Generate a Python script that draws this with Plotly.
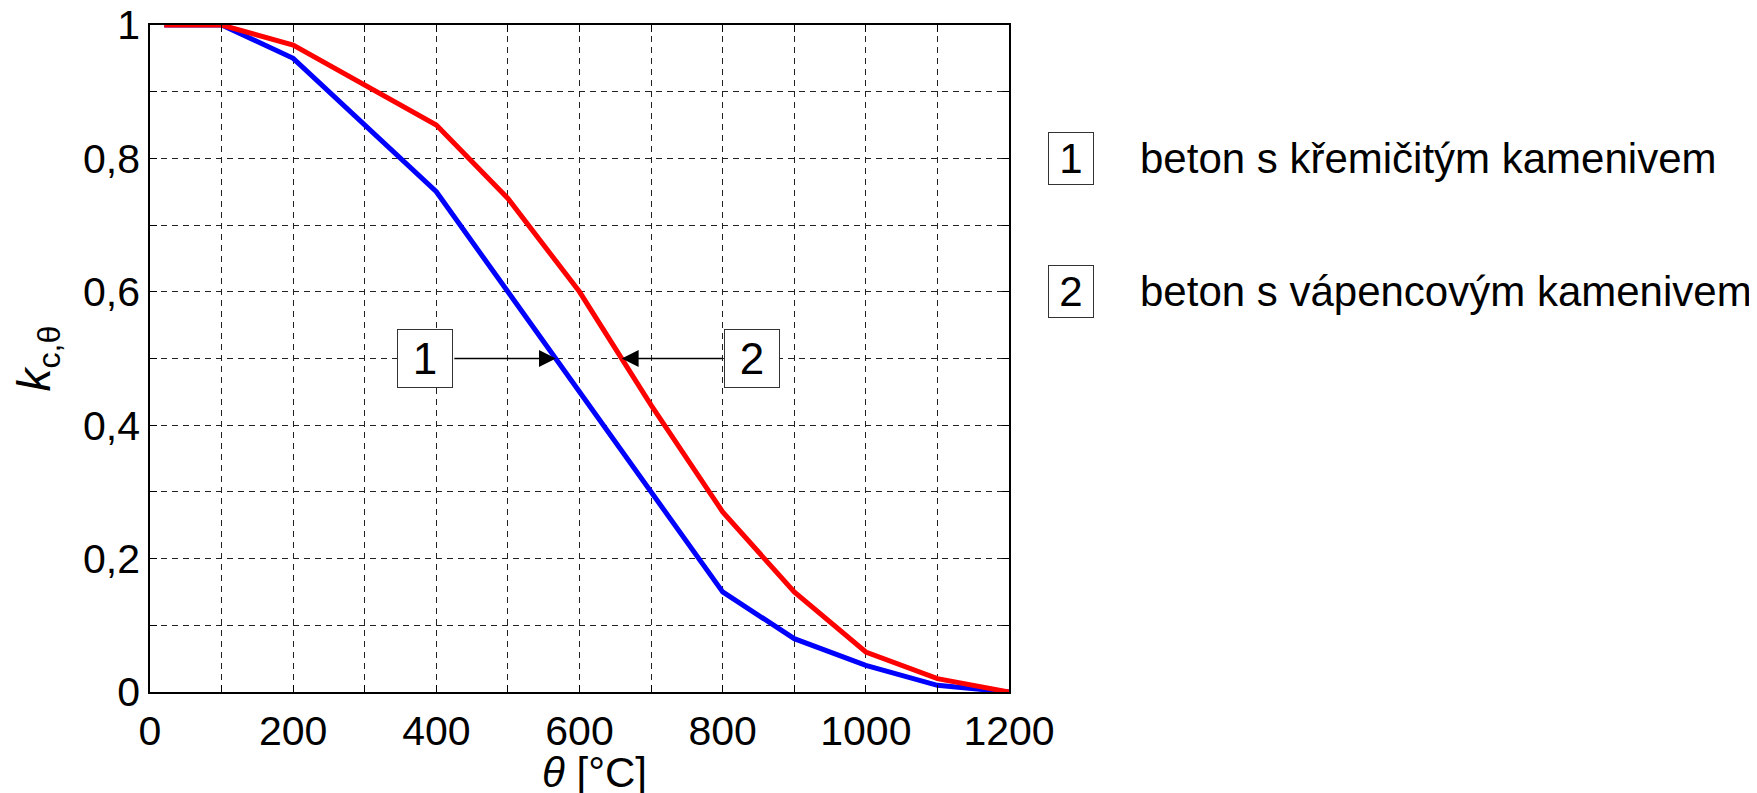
import plotly.graph_objects as go

# Data (EN 1992-1-2, k_c,theta)
theta = [20, 100, 200, 300, 400, 500, 600, 700, 800, 900, 1000, 1100, 1200]
k_siliceous = [1.00, 1.00, 0.95, 0.85, 0.75, 0.60, 0.45, 0.30, 0.15, 0.08, 0.04, 0.01, 0.00]
k_calcareous = [1.00, 1.00, 0.97, 0.91, 0.85, 0.74, 0.60, 0.43, 0.27, 0.15, 0.06, 0.02, 0.00]

x_tickvals = list(range(0, 1201, 100))
x_ticktext = ["0", " ", "200", " ", "400", " ", "600", " ", "800", " ", "1000", " ", "1200"]
y_tickvals = [i / 10 for i in range(11)]
y_ticktext = ["0", " ", "0,2", " ", "0,4", " ", "0,6", " ", "0,8", " ", "1"]

x_title = "<i>θ</i> [°C]"
y_title = "<i>k</i><sub>c,θ</sub>"

legend_labels = ["1", "2"]
legend_texts = ["beton s křemičitým kamenivem", "beton s vápencovým kamenivem"]
legend_y = [0.8, 0.6]

# callouts: label, box centre x, arrow target x, level
callouts = [("1", 384, 567, 0.5), ("2", 841, 659, 0.5)]
box_half = 39

FONT = "Liberation Sans, Arial, sans-serif"

fig = go.Figure()
fig.add_trace(go.Scatter(x=theta, y=k_siliceous, mode="lines",
                         line=dict(color="#0000FF", width=5), showlegend=False))
fig.add_trace(go.Scatter(x=theta, y=k_calcareous, mode="lines",
                         line=dict(color="#FF0000", width=5), showlegend=False))

annotations = []
for lab, cx, tx, yv in callouts:
    tail = cx + box_half if tx > cx else cx - box_half
    annotations.append(dict(x=tx, y=yv, ax=tail, ay=yv, xref="x", yref="y",
                            axref="x", ayref="y", text="", showarrow=True,
                            arrowhead=2, arrowsize=2.6, arrowwidth=1.3,
                            arrowcolor="black", standoff=0))
    annotations.append(dict(x=cx, y=yv, xref="x", yref="y", text=lab,
                            xanchor="center", yanchor="middle",
                            showarrow=False, font=dict(size=44, color="black", family=FONT),
                            bgcolor="white", bordercolor="#333333", borderwidth=1,
                            width=54, height=57, borderpad=0, align="center",
                            valign="middle"))

for lab, txt, yv in zip(legend_labels, legend_texts, legend_y):
    annotations.append(dict(x=1.0722, y=yv, xref="paper", yref="y", text=lab,
                            xanchor="center", yanchor="middle",
                            showarrow=False, font=dict(size=42, color="black", family=FONT),
                            bgcolor="white", bordercolor="#333333", borderwidth=1,
                            width=44, height=51, borderpad=0, align="center",
                            valign="middle"))
    annotations.append(dict(x=1.150, y=yv, xref="paper", yref="y", text=txt,
                            showarrow=False, xanchor="left", yanchor="middle",
                            font=dict(size=42, color="black", family=FONT)))

# x-axis title placed below the tick labels
annotations.append(dict(x=0.518, y=0, xref="paper", yref="paper", text=x_title,
                        showarrow=False, xanchor="center", yanchor="middle",
                        yshift=-80, font=dict(size=42, color="black", family=FONT)))

# page body has an 8px margin; figure is sized/offset to compensate
fig.update_layout(
    width=1749, height=785,
    margin=dict(l=142, r=748, t=17, b=101),
    paper_bgcolor="white", plot_bgcolor="white",
    font=dict(family=FONT, size=41, color="black"),
    annotations=annotations,
    xaxis=dict(range=[0, 1200], tickvals=x_tickvals, ticktext=x_ticktext,
               automargin=False, ticklabeloverflow="allow",
               showgrid=True, gridcolor="#222222", gridwidth=1, griddash="6px,5px",
               showline=True, linecolor="black", linewidth=1.5, mirror="ticks",
               ticks="inside", ticklen=7, tickcolor="black", zeroline=False,
               tickfont=dict(size=41, family=FONT), ticklabelstandoff=2),
    yaxis=dict(range=[0, 1], tickvals=y_tickvals, ticktext=y_ticktext,
               automargin=False, ticklabeloverflow="allow",
               showgrid=True, gridcolor="#222222", gridwidth=1, griddash="6px,5px",
               showline=True, linecolor="black", linewidth=1.5, mirror="ticks",
               ticks="inside", ticklen=7, tickcolor="black", zeroline=False,
               tickfont=dict(size=41, family=FONT),
               title=dict(text=y_title, font=dict(size=46, family=FONT), standoff=25)),
)

fig.write_html("out.html")
